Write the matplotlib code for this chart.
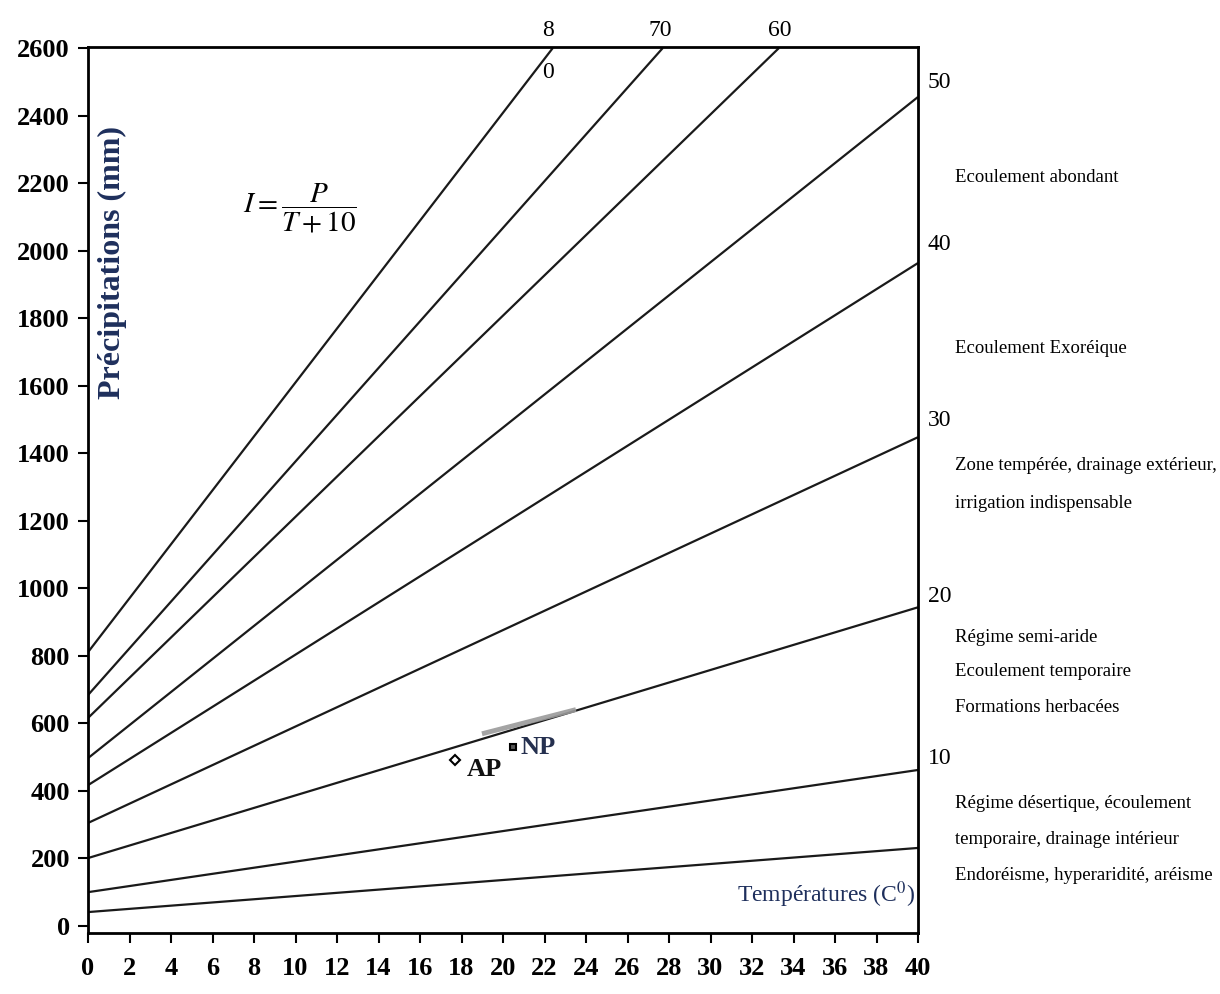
import matplotlib.pyplot as plt

plt.rcParams['font.family'] = ['Liberation Serif', 'DejaVu Serif']
plt.rcParams['mathtext.fontset'] = 'stix'

# Indice d'aridité de De Martonne : droites P = I (T + 10)
indices = [80, 70, 60, 50, 40, 30, 20, 10, 5]
p_debut = [810, 683, 615, 496, 416, 304, 200, 99, 40]       # P a T = 0
t_fin = [22.4, 27.7, 33.3, 40, 40, 40, 40, 40, 40]          # T en fin de droite
p_fin = [2600, 2600, 2600, 2455, 1963, 1447, 943, 461, 230]  # P en fin de droite

# Stations
stations = ['AP', 'NP']
st_temp = [17.7, 20.5]
st_prec = [490, 529]

# trait gris sur la droite I = 20
surligne_t = [19.1, 23.4]
surligne_p = [570, 638]

x_ticks = list(range(0, 41, 2))
y_ticks = list(range(0, 2601, 200))

W, H = 1220, 994
fig = plt.figure(figsize=(W / 100, H / 100), dpi=100)
ax = fig.add_axes([88 / W, 1 - 933 / H, (918 - 88) / W, (933 - 47) / H])

for i in range(len(indices)):
    ax.plot([0, t_fin[i]], [p_debut[i], p_fin[i]], color='#1a1a1a', lw=1.6,
            solid_capstyle='butt')

ax.plot(surligne_t, surligne_p, color='#9a9a9a', lw=3.5, alpha=0.9)

ax.plot(st_temp[0], st_prec[0], marker='D', ms=5, mfc='white', mec='black', mew=1.5, ls='none')
ax.plot(st_temp[1], st_prec[1], marker='s', ms=5, mfc='#555555', mec='black', mew=1.5, ls='none')
ax.annotate(stations[0], (st_temp[0], st_prec[0]), xytext=(8, -7), textcoords='offset points',
            fontsize=19, fontweight='bold', va='center', color='#111111')
ax.annotate(stations[1], (st_temp[1], st_prec[1]), xytext=(5, 0), textcoords='offset points',
            fontsize=19, fontweight='bold', va='center', color='#25304f')

ax.set_xlim(0, 40)
ax.set_ylim(-22, 2603)
ax.set_xticks(x_ticks)
ax.set_yticks(y_ticks)
ax.tick_params(axis='both', labelsize=19, width=1.5, length=7, direction='out')
ax.tick_params(axis='x', pad=10)
ax.tick_params(axis='y', pad=6)
for lab in ax.get_xticklabels() + ax.get_yticklabels():
    lab.set_fontweight('bold')
for s in ax.spines.values():
    s.set_linewidth(2)

navy = '#1e2f5c'
fig.text(112 / W, 1 - 262 / H, 'Précipitations (mm)', rotation=90, ha='center', va='center',
         fontsize=23, fontweight='bold', color=navy)
fig.text(826 / W, 1 - 895 / H, 'Températures (C$^{0}$)', ha='center', va='center',
         fontsize=17, color=navy)

fig.text(300 / W, 1 - 208 / H, r'$I=\dfrac{P}{T+10}$', ha='center', va='center', fontsize=21)

# libelles des droites
haut = [('8', 548, 30), ('0', 548, 72), ('70', 660, 30), ('60', 780, 30)]
droite = [('50', 83), ('40', 245), ('30', 420), ('20', 597), ('10', 758)]
for txt, x, y in haut:
    fig.text(x / W, 1 - y / H, txt, ha='center', va='center', fontsize=17)
for txt, y in droite:
    fig.text(928 / W, 1 - y / H, txt, ha='left', va='center', fontsize=17)

zones = [
    ('Ecoulement abondant', 178),
    ('Ecoulement Exoréique', 348),
    ('Zone tempérée, drainage extérieur,', 465),
    ('irrigation indispensable', 503),
    ('Régime semi-aride', 637),
    ('Ecoulement temporaire', 672),
    ('Formations herbacées', 708),
    ('Régime désertique, écoulement', 803),
    ('temporaire, drainage intérieur', 840),
    ('Endoréisme, hyperaridité, aréisme', 875),
]
for txt, y in zones:
    fig.text(955 / W, 1 - y / H, txt, ha='left', va='center', fontsize=13.5)

fig.savefig('out.png', dpi=100)
